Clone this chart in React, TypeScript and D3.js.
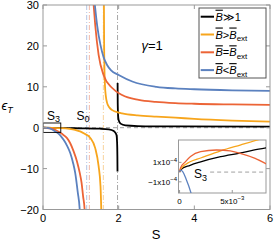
import React from 'react';
import * as d3 from 'd3';

const sTicks = [0, 2, 4, 6];
const epsTicks = [-20, -10, 0, 10, 20, 30];
const insetSTicks = [0, 0.005];
const insetSTickLabels = [['0', ''], ['5x10', '\u2212' + '3']];
const insetEpsTicks = [1e-4, -1e-4];
const insetEpsTickLabels = [['1x10', '\u22124'], ['\u22121x10', '\u22124']];

// vertical guide lines (S positions)
const guideS = [1.155, 1.225, 1.595, 1.97];
const guideColors = ['#b3c6e4', '#f2b8a6', '#f8d39b', '#a8a8a8'];

// main curves [S, eps]
const blackNeg = [[0, 0], [0.5, -0.1], [1.0, -0.15], [1.5, -0.25], [1.74, -0.4], [1.87, -0.8], [1.94, -1.7], [1.958, -3.5], [1.966, -7], [1.969, -10.7]];
const blackPos = [[1.972, 10.9], [1.975, 6], [1.985, 3], [2.0, 1.8], [2.05, 1.0], [2.18, 0.55], [2.5, 0.4], [3.5, 0.3], [6, 0.25]];
const orangeNeg = [[0, 0], [0.4, -0.1], [0.7, -0.3], [0.85, -0.55], [0.98, -0.9], [1.1, -1.5], [1.25, -2.5], [1.38, -5], [1.47, -9.4], [1.52, -14.3], [1.54, -20], [1.545, -22]];
const orangePos = [[1.61, 31], [1.615, 22], [1.625, 14], [1.64, 10], [1.66, 7.8], [1.69, 6.2], [1.75, 5.0], [1.83, 4.3], [2.0, 3.7], [2.09, 3.5], [2.5, 3.0], [3, 2.7], [3.5, 2.45], [4, 2.15], [5, 1.75], [6, 1.5]];
const redNeg = [[0, 0], [0.15, -0.15], [0.32, -0.5], [0.5, -1.5], [0.63, -2.5], [0.72, -3.8], [0.81, -5.8], [0.9, -8.3], [0.97, -11], [1.02, -13.5], [1.06, -16.8], [1.1, -20], [1.11, -22]];
const redPos = [[1.33, 31], [1.38, 25.1], [1.47, 17.8], [1.6, 12.9], [1.83, 9.7], [2.09, 8.0], [2.53, 6.8], [2.98, 6.3], [3.5, 6.0], [4, 5.85], [5, 5.7], [6, 5.6]];
const blueNeg = [[0, 0], [0.1, -0.05], [0.2, -0.25], [0.32, -0.9], [0.45, -1.8], [0.54, -2.9], [0.63, -4.3], [0.72, -6.2], [0.8, -8.8], [0.85, -11], [0.92, -15.9], [0.97, -20], [0.98, -22]];
const bluePos = [[1.36, 31], [1.43, 25.1], [1.52, 20.2], [1.6, 17.3], [1.69, 15.4], [1.8, 14], [2.0, 12.9], [2.36, 11.3], [3, 10.0], [3.5, 9.6], [4, 9.4], [5, 9.15], [6, 9.0]];

// inset curves [S, eps]
const insetBlack = [[0, 0], [0.0001, 0.25e-4], [0.001, 0.7e-4], [0.002, 1.05e-4], [0.0039, 1.58e-4], [0.0057, 1.95e-4], [0.007, 2.25e-4], [0.0083, 2.5e-4]];
const insetOrange = [[0, 0], [0.0001, 0.3e-4], [0.001, 1.06e-4], [0.002, 1.45e-4], [0.0039, 2.18e-4], [0.00575, 2.78e-4], [0.0077, 3.4e-4], [0.0082, 3.55e-4]];
const insetRed = [[0, 0], [0.0001, 0.45e-4], [0.0005, 1.0e-4], [0.00104, 1.6e-4], [0.002, 2.1e-4], [0.0035, 2.27e-4], [0.0048, 2.18e-4], [0.00575, 1.93e-4], [0.00717, 1.41e-4], [0.0083, 0.8e-4]];
const insetBlue = [[0, 0], [0.0001, 0.2e-4], [0.0003, 0.05e-4], [0.0006, -0.65e-4], [0.0011, -2.2e-4], [0.0012, -2.6e-4]];

const colors = { black: '#000000', orange: '#F7A51C', red: '#EC6436', blue: '#5B81BF' };

const legendLabels = [
  { color: colors.black, rel: '\u226B', rhs: '1', sub: false },
  { color: colors.orange, rel: '>', rhs: 'B', sub: true },
  { color: colors.red, rel: '=', rhs: 'B', sub: true },
  { color: colors.blue, rel: '<', rhs: 'B', sub: true },
];

const FONT = '"Liberation Sans", Arial, sans-serif';

export default function App() {
  const W = 274, H = 244;
  const x = d3.scaleLinear().domain([0, 6]).range([43, 270]);
  const y = d3.scaleLinear().domain([-20, 30]).range([209.5, 5]);
  const line = d3.line<number[]>().x(d => x(d[0])).y(d => y(d[1])).curve(d3.curveMonotoneX);

  const ix = d3.scaleLinear().domain([-0.0001, 0.0082]).range([178.5, 266]);
  const iy = d3.scaleLinear().domain([-2.15e-4, 3.3e-4]).range([193, 140]);
  const iline = d3.line<number[]>().x(d => ix(d[0])).y(d => iy(d[1])).curve(d3.curveMonotoneX);

  const mainSeries = [
    [blackNeg, colors.black], [blackPos, colors.black],
    [orangeNeg, colors.orange], [orangePos, colors.orange],
    [redNeg, colors.red], [redPos, colors.red],
    [blueNeg, colors.blue], [bluePos, colors.blue],
  ] as [number[][], string][];
  const insetSeries = [
    [insetBlack, colors.black], [insetOrange, colors.orange], [insetRed, colors.red], [insetBlue, colors.blue],
  ] as [number[][], string][];

  const [x0, x1] = x.range();
  const [y0, y1] = [y(30), y(-20)];
  const [ix0, ix1] = ix.range();
  const [iy0, iy1] = [iy.range()[1], iy.range()[0]];

  const legX = 199, legY = 8, legW = 67, legH = 70;
  const rowY = (i: number) => 16.7 + i * 17.8;

  return (
    <svg width={W} height={H} style={{ position: 'absolute', left: 0, top: 0, background: '#fff' }} fontFamily={FONT}>
      <defs>
        <clipPath id="mainClip"><rect x={x0} y={y0} width={x1 - x0} height={y1 - y0} /></clipPath>
        <clipPath id="insetClip"><rect x={ix0} y={iy0} width={ix1 - ix0} height={iy1 - iy0} /></clipPath>
      </defs>
      <rect width={W} height={H} fill="#fff" />
      {/* guides */}
      <g clipPath="url(#mainClip)">
        {guideS.map((s, i) => (
          <line key={i} x1={x(s)} x2={x(s)} y1={y0} y2={y1} stroke={guideColors[i]} strokeWidth={1} strokeDasharray="5,2,1,2" />
        ))}
        <line x1={x0} x2={x1} y1={y(0)} y2={y(0)} stroke="#a0a0a0" strokeWidth={1} strokeDasharray="4,3" />
        {mainSeries.map(([d, c], i) => (
          <path key={i} d={line(d) || ''} fill="none" stroke={c} strokeWidth={1.8} />
        ))}
        <rect x={x(0)} y={y(1.15)} width={x(0.47) - x(0)} height={y(-1.15) - y(1.15)} fill="none" stroke="#000" strokeWidth={0.9} />
      </g>
      {/* frame */}
      <rect x={x0} y={y0} width={x1 - x0} height={y1 - y0} fill="none" stroke="#999" strokeWidth={1} />
      {sTicks.map(t => (
        <g key={t}>
          <line x1={x(t)} x2={x(t)} y1={y1} y2={y1 - 4} stroke="#999" />
          <line x1={x(t)} x2={x(t)} y1={y0} y2={y0 + 4} stroke="#999" />
          <text x={x(t)} y={222} fontSize={11} textAnchor="middle">{t}</text>
        </g>
      ))}
      {epsTicks.map(t => (
        <g key={t}>
          <line x1={x0} x2={x0 + 4} y1={y(t)} y2={y(t)} stroke="#999" />
          <line x1={x1} x2={x1 - 4} y1={y(t)} y2={y(t)} stroke="#999" />
          <text x={39} y={y(t) + 4} fontSize={11} textAnchor="end">{t < 0 ? '\u2212' + Math.abs(t) : t}</text>
        </g>
      ))}
      {/* axis labels */}
      <text x={156} y={239} fontSize={13} textAnchor="middle">S</text>
      <text x={1.5} y={110} fontSize={13} fontStyle="italic">{'\u03F5'}<tspan fontSize={9} dy={2.5}>T</tspan></text>
      {/* annotations */}
      <text x={47} y={120} fontSize={12}>S<tspan fontSize={9} dy={2}>3</tspan></text>
      <text x={76.5} y={120} fontSize={12}>S<tspan fontSize={9} dy={2}>0</tspan></text>
      <text x={141.5} y={50} fontSize={13}><tspan fontStyle="italic">{'\u03B3'}</tspan>=1</text>
      {/* inset */}
      <rect x={ix0} y={iy0} width={ix1 - ix0} height={iy1 - iy0} fill="#fff" stroke="#999" strokeWidth={1} />
      <g clipPath="url(#insetClip)">
        <line x1={ix(0.0029)} x2={ix1} y1={iy(0)} y2={iy(0)} stroke="#a0a0a0" strokeWidth={1} strokeDasharray="4,3" />
        {insetSeries.map(([d, c], i) => (
          <path key={i} d={iline(d) || ''} fill="none" stroke={c} strokeWidth={1.3} />
        ))}
      </g>
      {insetSTicks.map((t, i) => (
        <g key={t}>
          <line x1={ix(t)} x2={ix(t)} y1={iy1} y2={iy1 - 3} stroke="#999" />
          <text x={ix(t)} y={203.5} fontSize={8} textAnchor="middle">{insetSTickLabels[i][0]}{insetSTickLabels[i][1] ? <tspan fontSize={6} dy={-3.5}>{insetSTickLabels[i][1]}</tspan> : null}</text>
        </g>
      ))}
      {insetEpsTicks.map((t, i) => (
        <g key={t}>
          <line x1={ix0} x2={ix0 + 3} y1={iy(t)} y2={iy(t)} stroke="#999" />
          <text x={177} y={iy(t) + 3} fontSize={8} textAnchor="end">{insetEpsTickLabels[i][0]}<tspan fontSize={6} dy={-3.5}>{insetEpsTickLabels[i][1]}</tspan></text>
        </g>
      ))}
      <text x={194} y={178} fontSize={12}>S<tspan fontSize={9} dy={2.5}>3</tspan></text>
      {/* legend */}
      <rect x={legX} y={legY} width={legW} height={legH} fill="#fff" stroke="#555" strokeWidth={1} />
      {legendLabels.map((l, i) => {
        const ry = rowY(i);
        return (
          <g key={i}>
            <line x1={200.7} x2={214} y1={ry} y2={ry} stroke={l.color} strokeWidth={2} />
            <text x={215.5} y={ry + 4} fontSize={11}>
              <tspan fontStyle="italic" textDecoration="overline" style={{ textDecoration: 'overline' }}>B</tspan>
              <tspan>{l.rel}</tspan>
              {l.sub ? (
                <>
                  <tspan fontStyle="italic" style={{ textDecoration: 'overline' }}>B</tspan>
                  <tspan fontSize={8} dy={2.5}>ext</tspan>
                </>
              ) : (
                <tspan>{l.rhs}</tspan>
              )}
            </text>
          </g>
        );
      })}
    </svg>
  );
}
